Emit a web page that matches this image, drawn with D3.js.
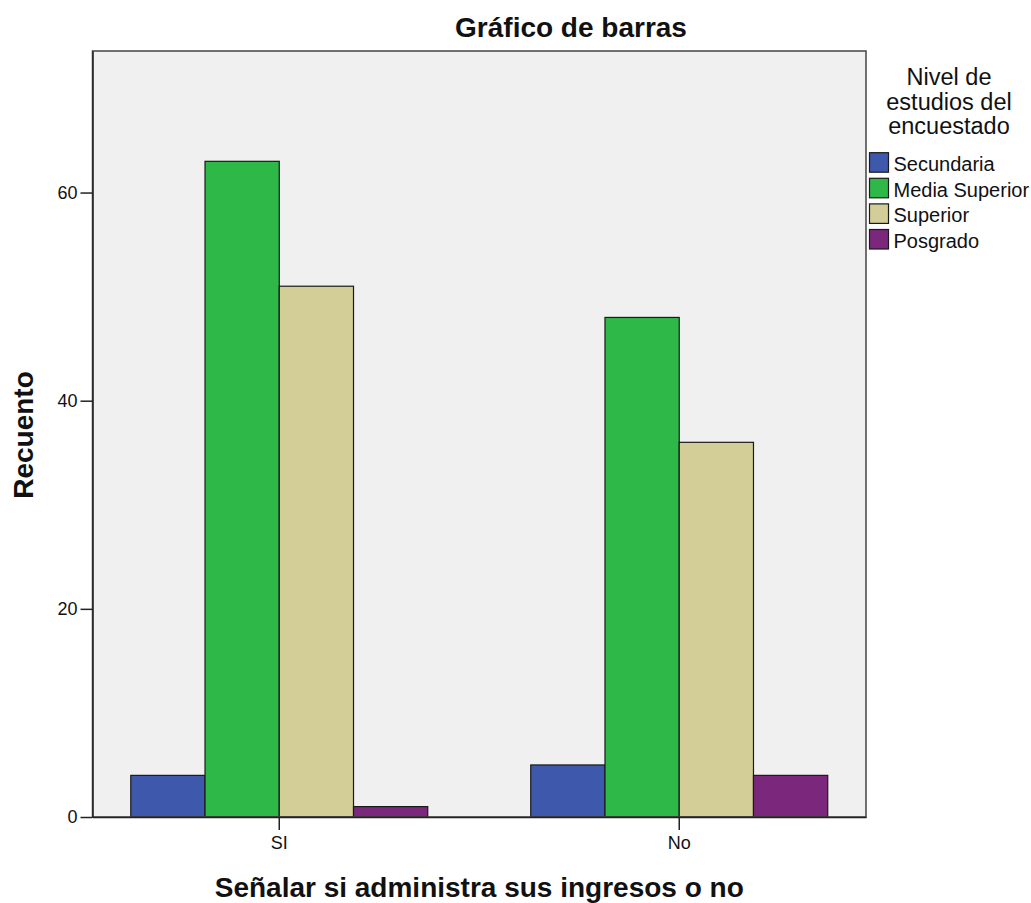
<!DOCTYPE html>
<html>
<head>
<meta charset="utf-8">
<script src="https://cdn.jsdelivr.net/npm/d3@7"></script>
<style>
  body { margin: 0; background: #fff; }
  svg { display: block; font-family: Arial, "Liberation Sans", sans-serif; }
</style>
</head>
<body>
<div id="chart"></div>
<script>
// data
const categories = ["SI", "No"];
const series = ["Secundaria", "Media Superior", "Superior", "Posgrado"];
const valuesSI = [4, 63, 51, 1];
const valuesNo = [5, 48, 36, 4];
const yTicks = [0, 20, 40, 60];
const colors = ["#3e58ac", "#2eb848", "#d3ce97", "#7b277c"];

const rows = categories.map((c, i) => ({
    cat: c,
    vals: series.map((s, j) => ({ key: s, value: (i === 0 ? valuesSI : valuesNo)[j] }))
}));

const width = 1031, height = 903;
const plot = { left: 92.5, right: 866, top: 51, bottom: 817 };

const svg = d3.select("#chart")
    .append("svg")
    .attr("width", width)
    .attr("height", height);

// plot background
svg.append("rect")
    .attr("x", plot.left)
    .attr("y", plot.top)
    .attr("width", plot.right - plot.left)
    .attr("height", plot.bottom - plot.top)
    .attr("fill", "#f0f0f0");

const x = d3.scaleBand()
    .domain(categories)
    .range([plot.left, plot.right])
    .paddingInner(0.2575)
    .paddingOuter(0.0957);

const xInner = d3.scaleBand()
    .domain(series)
    .range([0, x.bandwidth()]);

const y = d3.scaleLinear()
    .domain([0, 73.6])
    .range([plot.bottom, plot.top]);

const color = d3.scaleOrdinal().domain(series).range(colors);

// bars
svg.append("g")
    .selectAll("g")
    .data(rows)
    .join("g")
    .attr("transform", d => `translate(${x(d.cat)},0)`)
    .selectAll("rect")
    .data(d => d.vals)
    .join("rect")
    .attr("x", d => xInner(d.key))
    .attr("y", d => y(d.value))
    .attr("width", xInner.bandwidth())
    .attr("height", d => y(0) - y(d.value))
    .attr("fill", d => color(d.key))
    .attr("stroke", "#1a1a1a")
    .attr("stroke-width", 1.2);

// frame
svg.append("rect")
    .attr("x", plot.left)
    .attr("y", plot.top)
    .attr("width", plot.right - plot.left)
    .attr("height", plot.bottom - plot.top)
    .attr("fill", "none")
    .attr("stroke", "#444")
    .attr("stroke-width", 1.5);

// y axis
const yAxis = svg.append("g")
    .attr("transform", `translate(${plot.left},0)`)
    .call(d3.axisLeft(y).tickValues(yTicks).tickSize(12).tickSizeOuter(0).tickPadding(3));
yAxis.select(".domain").attr("stroke", "#222").attr("stroke-width", 1.5);
yAxis.selectAll(".tick line").attr("stroke", "#222").attr("stroke-width", 1.5);
yAxis.selectAll(".tick text")
    .attr("font-size", 18)
    .attr("font-family", "Arial, 'Liberation Sans', sans-serif")
    .attr("fill", "#111");

// x axis
const xAxis = svg.append("g")
    .attr("transform", `translate(0,${plot.bottom})`)
    .call(d3.axisBottom(x).tickSize(13).tickSizeOuter(0).tickPadding(6));
xAxis.select(".domain").attr("stroke", "#222").attr("stroke-width", 1.5);
xAxis.selectAll(".tick line").attr("stroke", "#222").attr("stroke-width", 1.5);
xAxis.selectAll(".tick text")
    .attr("font-size", 18)
    .attr("font-family", "Arial, 'Liberation Sans', sans-serif")
    .attr("fill", "#111");

// title
svg.append("text")
    .attr("x", 571)
    .attr("y", 37)
    .attr("text-anchor", "middle")
    .attr("font-size", 28)
    .attr("font-weight", "bold")
    .attr("fill", "#111")
    .text("Gráfico de barras");

// axis titles
svg.append("text")
    .attr("x", (plot.left + plot.right) / 2)
    .attr("y", 897)
    .attr("text-anchor", "middle")
    .attr("font-size", 28)
    .attr("font-weight", "bold")
    .attr("fill", "#111")
    .text("Señalar si administra sus ingresos o no");

svg.append("text")
    .attr("transform", "translate(33,435) rotate(-90)")
    .attr("text-anchor", "middle")
    .attr("font-size", 28)
    .attr("font-weight", "bold")
    .attr("fill", "#111")
    .text("Recuento");

// legend
const legendTitle = ["Nivel de", "estudios del", "encuestado"];
svg.append("g")
    .selectAll("text")
    .data(legendTitle)
    .join("text")
    .attr("x", 949)
    .attr("y", (d, i) => 85 + i * 24.5)
    .attr("text-anchor", "middle")
    .attr("font-size", 23.5)
    .attr("fill", "#111")
    .text(d => d);

const legend = svg.append("g")
    .selectAll("g")
    .data(series)
    .join("g")
    .attr("transform", (d, i) => `translate(869.5,${152.7 + i * 25.6})`);

legend.append("rect")
    .attr("width", 19)
    .attr("height", 19.5)
    .attr("fill", d => color(d))
    .attr("stroke", "#1a1a1a")
    .attr("stroke-width", 1.2);

legend.append("text")
    .attr("x", 24)
    .attr("y", 18.5)
    .attr("font-size", 20)
    .attr("fill", "#111")
    .text(d => d);
</script>
</body>
</html>
